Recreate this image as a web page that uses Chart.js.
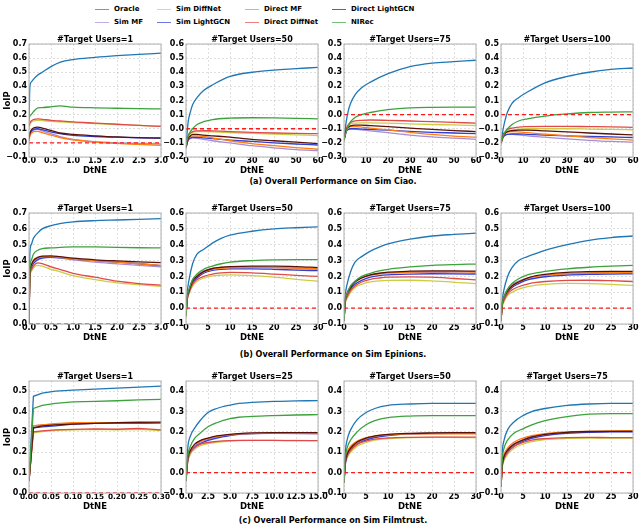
<!DOCTYPE html>
<html>
<head>
<meta charset="utf-8">
<script src="https://cdn.jsdelivr.net/npm/chart.js@4.4.0/dist/chart.umd.min.js"></script>
<style>
  body { margin: 0; background: #fff; width: 639px; height: 527px; position: relative; overflow: hidden; font-family: "DejaVu Sans"; }
  canvas { position: absolute; }
  .lg { position: absolute; height: 8px; display: flex; align-items: center; font-weight: bold; font-size: 7px; white-space: nowrap; }
  .lg span { display: inline-block; width: 14px; margin-right: 5px; border-top: 1.6px solid; }
  .cap { position: absolute; left: 0; width: 666px; text-align: center; font-weight: bold; font-size: 8px; line-height: 10px; }
</style>
</head>
<body>
<script>
// series order: Oracle, Sim MF, Sim DiffNet, Sim LightGCN, Direct MF, Direct DiffNet, Direct LightGCN, NIRec
const seriesNames = ["Oracle", "Sim MF", "Sim DiffNet", "Sim LightGCN", "Direct MF", "Direct DiffNet", "Direct LightGCN", "NIRec"];
const seriesColors = ["#1f77b4", "#a98bd6", "#cdcd45", "#2f3fd6", "#ff7f0e", "#e04a4a", "#5a1208", "#3ca23c"];

const panelTitles = ["#Target Users=1", "#Target Users=50", "#Target Users=75", "#Target Users=100",
  "#Target Users=1", "#Target Users=50", "#Target Users=75", "#Target Users=100",
  "#Target Users=1", "#Target Users=25", "#Target Users=50", "#Target Users=75"];
const captions = ["(a) Overall Performance on Sim Ciao.", "(b) Overall Performance on Sim Epinions.", "(c) Overall Performance on Sim Filmtrust."];

const yMins = [-0.1, -0.2, -0.3, -0.3, 0, -0.1, -0.1, -0.1, 0, -0.1, -0.1, -0.1];
const yMaxs = [0.7, 0.6, 0.5, 0.5, 0.7, 0.6, 0.6, 0.6, 0.55, 0.45, 0.45, 0.45];
const xMaxs = [3, 60, 60, 60, 3, 30, 30, 30, 0.3, 15, 30, 30];
const xSteps = [0.5, 10, 10, 10, 0.5, 5, 5, 5, 0.05, 2.5, 5, 5];
const xDecimals = [1, 0, 0, 0, 1, 0, 0, 0, 2, 1, 0, 0];

// ---- Sim Ciao ----
const ciaoX1 = [0, 0.02, 0.05, 0.1, 0.2, 0.3, 0.5, 0.7, 1.0, 1.5, 2.0, 2.5, 3.0];
const ciaoY1 = [
  [0.15, 0.40, 0.43, 0.45, 0.48, 0.50, 0.54, 0.57, 0.59, 0.605, 0.617, 0.627, 0.635],
  [0.02, 0.06, 0.075, 0.09, 0.095, 0.085, 0.065, 0.045, 0.025, 0.008, 0.0, -0.004, -0.008],
  [0.10, 0.13, 0.145, 0.155, 0.16, 0.158, 0.152, 0.148, 0.143, 0.137, 0.13, 0.124, 0.118],
  [0.02, 0.06, 0.08, 0.095, 0.10, 0.093, 0.078, 0.065, 0.053, 0.045, 0.04, 0.035, 0.032],
  [0.01, 0.05, 0.065, 0.08, 0.082, 0.072, 0.055, 0.038, 0.022, 0.006, -0.004, -0.011, -0.017],
  [0.12, 0.14, 0.155, 0.165, 0.17, 0.167, 0.16, 0.155, 0.148, 0.14, 0.132, 0.124, 0.117],
  [0.03, 0.07, 0.09, 0.105, 0.112, 0.105, 0.088, 0.07, 0.06, 0.05, 0.042, 0.037, 0.035],
  [0.17, 0.19, 0.20, 0.22, 0.248, 0.25, 0.255, 0.262, 0.253, 0.248, 0.245, 0.242, 0.24]
];
const ciaoX = [0, 1, 2, 3, 5, 8, 12, 20, 30, 40, 50, 60];
const ciaoY50 = [
  [-0.12, 0.05, 0.12, 0.17, 0.22, 0.27, 0.31, 0.37, 0.40, 0.415, 0.425, 0.435],
  [-0.14, -0.08, -0.07, -0.065, -0.068, -0.075, -0.085, -0.10, -0.12, -0.135, -0.148, -0.155],
  [-0.13, -0.06, -0.035, -0.025, -0.02, -0.02, -0.022, -0.027, -0.033, -0.038, -0.043, -0.048],
  [-0.13, -0.08, -0.065, -0.06, -0.06, -0.065, -0.07, -0.08, -0.09, -0.10, -0.108, -0.115],
  [-0.13, -0.07, -0.055, -0.05, -0.05, -0.055, -0.065, -0.085, -0.105, -0.12, -0.133, -0.145],
  [-0.13, -0.05, -0.03, -0.02, -0.015, -0.013, -0.015, -0.02, -0.025, -0.03, -0.033, -0.035],
  [-0.13, -0.07, -0.05, -0.04, -0.04, -0.045, -0.05, -0.06, -0.075, -0.085, -0.095, -0.105],
  [-0.12, -0.05, -0.02, 0.0, 0.03, 0.05, 0.065, 0.075, 0.078, 0.077, 0.074, 0.07]
];
const ciaoY75 = [
  [-0.18, -0.05, 0.03, 0.08, 0.14, 0.19, 0.23, 0.29, 0.34, 0.365, 0.375, 0.385],
  [-0.19, -0.12, -0.105, -0.10, -0.102, -0.108, -0.115, -0.128, -0.145, -0.158, -0.167, -0.175],
  [-0.18, -0.11, -0.08, -0.065, -0.06, -0.058, -0.058, -0.06, -0.065, -0.07, -0.073, -0.077],
  [-0.18, -0.12, -0.105, -0.10, -0.10, -0.102, -0.105, -0.11, -0.118, -0.125, -0.13, -0.135],
  [-0.18, -0.11, -0.09, -0.085, -0.085, -0.088, -0.095, -0.108, -0.125, -0.14, -0.152, -0.16],
  [-0.18, -0.10, -0.07, -0.055, -0.045, -0.04, -0.038, -0.04, -0.045, -0.05, -0.055, -0.06],
  [-0.18, -0.11, -0.09, -0.08, -0.075, -0.075, -0.078, -0.085, -0.095, -0.105, -0.113, -0.12],
  [-0.18, -0.12, -0.08, -0.05, -0.02, 0.0, 0.015, 0.035, 0.048, 0.052, 0.053, 0.053]
];
const ciaoY100 = [
  [-0.20, -0.10, -0.03, 0.02, 0.08, 0.12, 0.16, 0.225, 0.27, 0.30, 0.32, 0.33],
  [-0.21, -0.16, -0.145, -0.14, -0.14, -0.143, -0.15, -0.16, -0.172, -0.182, -0.19, -0.195],
  [-0.20, -0.15, -0.13, -0.12, -0.11, -0.103, -0.10, -0.10, -0.10, -0.102, -0.105, -0.107],
  [-0.20, -0.16, -0.145, -0.14, -0.137, -0.137, -0.14, -0.145, -0.15, -0.155, -0.158, -0.162],
  [-0.20, -0.15, -0.13, -0.122, -0.12, -0.122, -0.128, -0.138, -0.15, -0.162, -0.172, -0.18],
  [-0.20, -0.14, -0.12, -0.105, -0.095, -0.088, -0.085, -0.083, -0.083, -0.085, -0.087, -0.09],
  [-0.20, -0.15, -0.13, -0.12, -0.113, -0.11, -0.11, -0.115, -0.122, -0.13, -0.137, -0.143],
  [-0.20, -0.15, -0.12, -0.10, -0.07, -0.045, -0.03, -0.01, 0.005, 0.015, 0.018, 0.02]
];

// ---- Sim Epinions ----
const epiX1 = [0, 0.02, 0.05, 0.1, 0.2, 0.3, 0.5, 0.7, 1.0, 1.5, 2.0, 2.5, 3.0];
const epiY1 = [
  [0.0, 0.45, 0.50, 0.54, 0.575, 0.60, 0.62, 0.633, 0.644, 0.652, 0.656, 0.66, 0.665],
  [0.0, 0.31, 0.36, 0.39, 0.41, 0.42, 0.42, 0.415, 0.405, 0.39, 0.38, 0.37, 0.36],
  [0.0, 0.29, 0.33, 0.355, 0.37, 0.365, 0.345, 0.33, 0.305, 0.28, 0.26, 0.248, 0.238],
  [0.0, 0.30, 0.35, 0.38, 0.405, 0.415, 0.42, 0.418, 0.41, 0.40, 0.39, 0.38, 0.368],
  [0.0, 0.32, 0.37, 0.40, 0.42, 0.425, 0.425, 0.42, 0.41, 0.40, 0.39, 0.38, 0.37],
  [0.0, 0.30, 0.34, 0.365, 0.385, 0.38, 0.36, 0.345, 0.32, 0.295, 0.27, 0.255, 0.245],
  [0.0, 0.32, 0.37, 0.40, 0.42, 0.428, 0.43, 0.425, 0.415, 0.405, 0.398, 0.392, 0.387],
  [0.0, 0.35, 0.40, 0.44, 0.465, 0.475, 0.48, 0.483, 0.487, 0.486, 0.483, 0.481, 0.48]
];
const epiX = [0, 0.3, 0.7, 1.5, 2.5, 4, 6, 8, 10, 15, 20, 25, 30];
const epiY50 = [
  [-0.05, 0.10, 0.18, 0.28, 0.34, 0.37, 0.41, 0.44, 0.46, 0.485, 0.50, 0.507, 0.512],
  [-0.05, 0.08, 0.12, 0.18, 0.21, 0.235, 0.25, 0.255, 0.258, 0.258, 0.255, 0.25, 0.245],
  [-0.06, 0.05, 0.09, 0.14, 0.17, 0.19, 0.203, 0.208, 0.21, 0.205, 0.195, 0.182, 0.17],
  [-0.05, 0.06, 0.10, 0.16, 0.19, 0.22, 0.238, 0.245, 0.248, 0.248, 0.245, 0.24, 0.236],
  [-0.05, 0.07, 0.11, 0.17, 0.20, 0.228, 0.245, 0.252, 0.255, 0.258, 0.256, 0.253, 0.25],
  [-0.05, 0.06, 0.10, 0.15, 0.18, 0.20, 0.215, 0.222, 0.225, 0.222, 0.215, 0.207, 0.20],
  [-0.05, 0.07, 0.11, 0.17, 0.20, 0.23, 0.25, 0.258, 0.262, 0.265, 0.265, 0.262, 0.256],
  [-0.05, 0.07, 0.12, 0.18, 0.215, 0.245, 0.265, 0.28, 0.29, 0.30, 0.305, 0.306, 0.306]
];
const epiY75 = [
  [-0.08, 0.08, 0.15, 0.23, 0.29, 0.325, 0.36, 0.385, 0.405, 0.435, 0.455, 0.465, 0.473],
  [-0.08, 0.06, 0.10, 0.14, 0.17, 0.195, 0.21, 0.218, 0.222, 0.225, 0.225, 0.222, 0.22],
  [-0.08, 0.03, 0.06, 0.10, 0.13, 0.15, 0.165, 0.172, 0.175, 0.176, 0.172, 0.163, 0.155],
  [-0.08, 0.04, 0.08, 0.12, 0.15, 0.175, 0.195, 0.205, 0.21, 0.215, 0.217, 0.216, 0.214],
  [-0.08, 0.05, 0.09, 0.135, 0.165, 0.19, 0.208, 0.217, 0.222, 0.228, 0.23, 0.23, 0.228],
  [-0.08, 0.04, 0.07, 0.11, 0.14, 0.165, 0.182, 0.19, 0.195, 0.197, 0.195, 0.187, 0.178],
  [-0.08, 0.05, 0.09, 0.13, 0.165, 0.19, 0.21, 0.22, 0.227, 0.233, 0.235, 0.235, 0.233],
  [-0.08, 0.05, 0.09, 0.14, 0.17, 0.20, 0.22, 0.235, 0.245, 0.26, 0.27, 0.275, 0.278]
];
const epiY100 = [
  [-0.08, 0.05, 0.12, 0.20, 0.255, 0.30, 0.325, 0.345, 0.365, 0.40, 0.428, 0.445, 0.455],
  [-0.08, 0.04, 0.08, 0.12, 0.15, 0.17, 0.19, 0.20, 0.207, 0.215, 0.22, 0.222, 0.223],
  [-0.08, 0.01, 0.04, 0.08, 0.10, 0.12, 0.135, 0.145, 0.15, 0.156, 0.155, 0.15, 0.143],
  [-0.08, 0.02, 0.06, 0.10, 0.13, 0.155, 0.178, 0.19, 0.198, 0.208, 0.213, 0.215, 0.216],
  [-0.08, 0.03, 0.07, 0.11, 0.14, 0.165, 0.188, 0.20, 0.208, 0.218, 0.223, 0.225, 0.226],
  [-0.08, 0.02, 0.05, 0.09, 0.115, 0.135, 0.152, 0.162, 0.168, 0.175, 0.176, 0.173, 0.168],
  [-0.08, 0.03, 0.07, 0.11, 0.14, 0.165, 0.19, 0.205, 0.213, 0.225, 0.23, 0.232, 0.232],
  [-0.08, 0.03, 0.07, 0.12, 0.155, 0.185, 0.21, 0.222, 0.232, 0.248, 0.258, 0.265, 0.27]
];

// ---- Sim Filmtrust ----
const filmX1 = [0, 0.01, 0.03, 0.06, 0.1, 0.15, 0.2, 0.25, 0.3];
const filmY1 = [
  [0.06, 0.475, 0.49, 0.50, 0.505, 0.51, 0.515, 0.52, 0.525],
  [0.06, 0.33, 0.335, 0.338, 0.343, 0.343, 0.345, 0.348, 0.345],
  [0.06, 0.295, 0.302, 0.308, 0.31, 0.312, 0.31, 0.312, 0.306],
  [0.06, 0.32, 0.325, 0.33, 0.338, 0.342, 0.343, 0.342, 0.342],
  [0.06, 0.33, 0.335, 0.34, 0.345, 0.345, 0.345, 0.347, 0.343],
  [0.06, 0.30, 0.305, 0.31, 0.312, 0.315, 0.313, 0.317, 0.31],
  [0.06, 0.32, 0.33, 0.335, 0.338, 0.342, 0.345, 0.347, 0.348],
  [0.06, 0.415, 0.43, 0.44, 0.447, 0.45, 0.453, 0.457, 0.46]
];
const filmX25 = [0, 0.2, 0.5, 1, 1.5, 2.5, 3.5, 5, 6, 7.5, 10, 12.5, 15];
const filmY25 = [
  [-0.04, 0.12, 0.18, 0.22, 0.25, 0.295, 0.315, 0.332, 0.34, 0.345, 0.35, 0.352, 0.354],
  [-0.04, 0.07, 0.105, 0.13, 0.148, 0.163, 0.175, 0.185, 0.19, 0.192, 0.193, 0.192, 0.19],
  [-0.04, 0.05, 0.09, 0.115, 0.13, 0.142, 0.15, 0.155, 0.157, 0.158, 0.158, 0.158, 0.157],
  [-0.04, 0.06, 0.10, 0.125, 0.14, 0.158, 0.17, 0.182, 0.188, 0.192, 0.194, 0.194, 0.194],
  [-0.04, 0.08, 0.11, 0.14, 0.152, 0.168, 0.178, 0.185, 0.19, 0.192, 0.194, 0.193, 0.192],
  [-0.04, 0.06, 0.10, 0.125, 0.138, 0.148, 0.153, 0.157, 0.158, 0.158, 0.158, 0.157, 0.157],
  [-0.04, 0.07, 0.11, 0.14, 0.155, 0.17, 0.18, 0.188, 0.192, 0.195, 0.196, 0.196, 0.196],
  [-0.04, 0.08, 0.13, 0.17, 0.19, 0.225, 0.245, 0.265, 0.272, 0.276, 0.28, 0.283, 0.285]
];
const filmX = [0, 0.3, 0.7, 1.5, 3, 5, 7, 10, 15, 20, 25, 30];
const filmY50 = [
  [-0.05, 0.10, 0.16, 0.21, 0.26, 0.295, 0.315, 0.33, 0.337, 0.34, 0.34, 0.34],
  [-0.05, 0.05, 0.09, 0.12, 0.148, 0.165, 0.176, 0.185, 0.19, 0.192, 0.193, 0.193],
  [-0.05, 0.04, 0.07, 0.10, 0.13, 0.148, 0.16, 0.167, 0.172, 0.173, 0.173, 0.172],
  [-0.05, 0.04, 0.08, 0.11, 0.14, 0.16, 0.172, 0.182, 0.19, 0.193, 0.195, 0.195],
  [-0.05, 0.06, 0.10, 0.13, 0.155, 0.172, 0.18, 0.186, 0.19, 0.19, 0.19, 0.19],
  [-0.05, 0.05, 0.08, 0.11, 0.14, 0.155, 0.165, 0.17, 0.173, 0.174, 0.174, 0.174],
  [-0.05, 0.05, 0.09, 0.12, 0.15, 0.17, 0.18, 0.188, 0.193, 0.195, 0.196, 0.196],
  [-0.05, 0.07, 0.12, 0.16, 0.20, 0.235, 0.255, 0.27, 0.278, 0.28, 0.28, 0.28]
];
const filmY75 = [
  [-0.07, 0.10, 0.16, 0.21, 0.25, 0.28, 0.30, 0.315, 0.33, 0.337, 0.34, 0.34],
  [-0.07, 0.04, 0.08, 0.11, 0.142, 0.162, 0.175, 0.187, 0.196, 0.20, 0.202, 0.202],
  [-0.07, 0.03, 0.06, 0.09, 0.12, 0.14, 0.152, 0.162, 0.168, 0.17, 0.17, 0.17],
  [-0.07, 0.03, 0.07, 0.10, 0.13, 0.153, 0.168, 0.182, 0.193, 0.198, 0.20, 0.20],
  [-0.07, 0.05, 0.09, 0.12, 0.15, 0.17, 0.182, 0.192, 0.20, 0.203, 0.205, 0.206],
  [-0.07, 0.04, 0.07, 0.10, 0.13, 0.148, 0.16, 0.167, 0.172, 0.173, 0.172, 0.172],
  [-0.07, 0.04, 0.08, 0.11, 0.14, 0.16, 0.175, 0.188, 0.198, 0.202, 0.203, 0.203],
  [-0.07, 0.07, 0.12, 0.16, 0.195, 0.215, 0.235, 0.255, 0.275, 0.287, 0.29, 0.29]
];

const panelX = [ciaoX1, ciaoX, ciaoX, ciaoX, epiX1, epiX, epiX, epiX, filmX1, filmX25, filmX, filmX];
const panelY = [ciaoY1, ciaoY50, ciaoY75, ciaoY100, epiY1, epiY50, epiY75, epiY100, filmY1, filmY25, filmY50, filmY75];

// layout (px)
const colLeft = [29, 186, 344, 501];
const rowTop = [44, 213, 381];
const rowH = [113, 111, 112];
const plotW = 132;
const capY = [177, 350, 516];
const legendLeft = [95, 157, 245, 332];
const legendY = [5, 18];

Chart.defaults.font.family = "DejaVu Sans";
Chart.defaults.font.weight = "bold";
Chart.defaults.color = "#000";

const fmt = (v, d) => {
  if (Math.abs(v) < 1e-9) v = 0;
  return v.toFixed(d).replace("-", "\u2212");
};

// axes box, subplot title and x-axis label, placed from the real chart area
const frame = {
  id: "frame",
  afterDraw(chart, args, opts) {
    const a = chart.chartArea, ctx = chart.ctx;
    const cx = (a.left + a.right) / 2;
    ctx.save();
    ctx.strokeStyle = "#b0b0b0";
    ctx.lineWidth = 1;
    ctx.strokeRect(a.left, a.top, a.right - a.left, a.bottom - a.top);
    ctx.fillStyle = "#000";
    ctx.textAlign = "center";
    ctx.font = "bold 8px 'DejaVu Sans'";
    ctx.textBaseline = "alphabetic";
    ctx.fillText(opts.title, cx, a.top - 2.5);
    ctx.font = "bold 8.5px 'DejaVu Sans'";
    ctx.textBaseline = "alphabetic";
    ctx.fillText("DtNE", cx, a.bottom + 16);
    ctx.restore();
  }
};

// legend
seriesNames.forEach((name, i) => {
  const d = document.createElement("div");
  d.className = "lg";
  d.style.left = legendLeft[Math.floor(i / 2)] + "px";
  d.style.top = legendY[i % 2] + "px";
  d.innerHTML = '<span style="border-color:' + seriesColors[i] + ';opacity:0.7"></span>' + name;
  document.body.appendChild(d);
});

captions.forEach((t, r) => {
  const d = document.createElement("div");
  d.className = "cap";
  d.style.top = capY[r] + "px";
  d.textContent = t;
  document.body.appendChild(d);
});

for (let p = 0; p < 12; p++) {
  const r = Math.floor(p / 4), c = p % 4;
  const yW = c === 0 ? 29 : 26;
  const titleH = 12, xH = 20, padR = 12;
  const w = yW + plotW + padR, h = titleH + rowH[r] + xH;
  const cv = document.createElement("canvas");
  cv.width = w; cv.height = h;
  cv.style.width = w + "px"; cv.style.height = h + "px";
  cv.style.left = (colLeft[c] - yW) + "px";
  cv.style.top = (rowTop[r] - titleH) + "px";
  document.body.appendChild(cv);

  const xs = panelX[p];
  const datasets = panelY[p].map((ys, i) => ({
    label: seriesNames[i],
    data: xs.map((x, k) => ({ x: x, y: ys[k] })),
    borderColor: seriesColors[i],
    borderWidth: 1.3,
    pointRadius: 0,
    cubicInterpolationMode: p === 8 ? "default" : "monotone",
    tension: 0,
    order: -i
  }));
  datasets.push({
    label: "zero",
    data: [{ x: 0, y: 0 }, { x: xMaxs[p], y: 0 }],
    borderColor: "#ff1a1a",
    borderWidth: 1.3,
    borderDash: [4, 3],
    pointRadius: 0,
    order: -100
  });

  new Chart(cv, {
    type: "line",
    data: { datasets: datasets },
    plugins: [frame],
    options: {
      responsive: false,
      animation: false,
      layout: { padding: { top: titleH, left: 0, bottom: 0, right: padR } },
      plugins: {
        legend: { display: false },
        tooltip: { enabled: false },
        title: { display: false },
        frame: { title: panelTitles[p] }
      },
      scales: {
        x: {
          type: "linear",
          min: 0,
          max: xMaxs[p],
          afterFit: (s) => { s.height = xH; },
          ticks: {
            stepSize: xSteps[p],
            autoSkip: false,
            maxRotation: 0,
            minRotation: 0,
            padding: 0,
            font: { size: p === 8 ? 7.3 : 8, weight: "bold", lineHeight: 1 },
            callback: (v) => fmt(v, xDecimals[p])
          },
          grid: { color: "rgba(0,0,0,0.16)", lineWidth: 0.8, drawTicks: false },
          border: { display: false, dash: [2, 2] }
        },
        y: {
          min: yMins[p],
          max: yMaxs[p],
          afterFit: (s) => { s.width = yW; },
          ticks: {
            stepSize: 0.1,
            includeBounds: false,
            padding: 2,
            font: { size: 8, weight: "bold" },
            callback: (v) => fmt(v, 1)
          },
          grid: { color: "rgba(0,0,0,0.16)", lineWidth: 0.8, drawTicks: false },
          border: { display: false, dash: [2, 2] },
          title: { display: c === 0, text: "IoIP", font: { size: 8.5, weight: "bold", lineHeight: 1 }, padding: { top: 3.5, bottom: 0 } }
        }
      }
    }
  });
}
</script>
</body>
</html>
